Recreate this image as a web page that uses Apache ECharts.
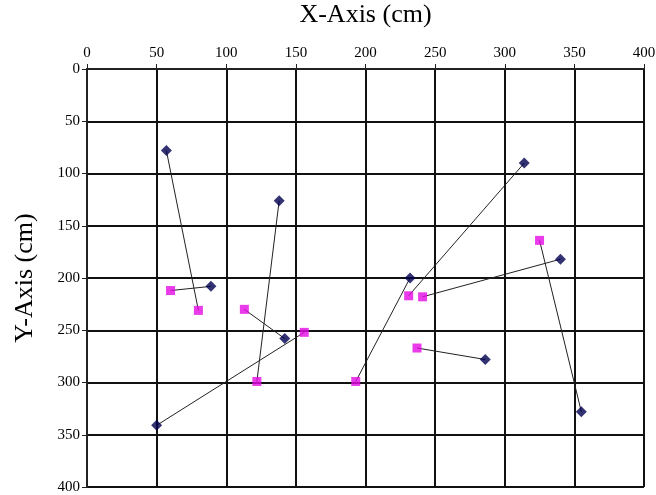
<!DOCTYPE html>
<html><head><meta charset="utf-8">
<script src="https://cdn.jsdelivr.net/npm/echarts@6/dist/echarts.min.js"></script>
<style>html,body{margin:0;padding:0;background:#fff}#c{width:656px;height:495px}</style>
</head><body><div id="c"></div>
<script>
// Navy (start) points and their paired magenta (end) points
var navyX = [57, 89, 138, 142, 50, 232, 314, 340, 286, 355];
var navyY = [78, 208, 126, 258, 341, 200, 90, 182, 278, 328];
var magX  = [80, 60, 122, 113, 156, 193, 231, 241, 237, 325];
var magY  = [231, 212, 299, 230, 252, 299, 217, 218, 267, 164];
var xTicks = [0, 50, 100, 150, 200, 250, 300, 350, 400];
var yTicks = [0, 50, 100, 150, 200, 250, 300, 350, 400];

var series = [];
for (var i = 0; i < navyX.length; i++) {
  series.push({
    type: 'line', silent: true, symbol: 'none', z: 2,
    lineStyle: {color: '#222', width: 1},
    data: [[navyX[i], navyY[i]], [magX[i], magY[i]]]
  });
}
series.push({
  type: 'scatter', symbol: 'square', symbolSize: 9, z: 3,
  itemStyle: {color: '#e40ae4'},
  data: magX.map(function (x, i) { return [x, magY[i]]; })
});
series.push({
  type: 'scatter', symbol: 'diamond', symbolSize: 11, z: 4,
  itemStyle: {color: '#000050'},
  data: navyX.map(function (x, i) { return [x, navyY[i]]; })
});

var font = 'Liberation Serif';
var chart = echarts.init(document.getElementById('c'), null, {renderer: 'canvas'});
chart.setOption({
  animation: false,
  backgroundColor: '#fff',
  grid: {left: 87, top: 69, width: 557, height: 418, containLabel: false, outerBoundsMode: 'none'},
  xAxis: {
    type: 'value', position: 'top', min: xTicks[0], max: xTicks[xTicks.length - 1], interval: 50,
    name: 'X-Axis (cm)', nameLocation: 'middle', nameGap: 41,
    nameTextStyle: {fontFamily: font, fontSize: 26, color: '#000'},
    axisLine: {show: true, lineStyle: {color: '#222', width: 2}},
    axisTick: {show: true, length: 5, lineStyle: {color: '#222', width: 1}},
    axisLabel: {fontFamily: font, fontSize: 15, color: '#000', margin: 8},
    splitLine: {show: true, lineStyle: {color: '#111', width: 2}}
  },
  yAxis: {
    type: 'value', inverse: true, min: yTicks[0], max: yTicks[yTicks.length - 1], interval: 50,
    name: 'Y-Axis (cm)', nameLocation: 'middle', nameGap: 49, nameRotate: 90,
    nameTextStyle: {fontFamily: font, fontSize: 26, color: '#000'},
    axisLine: {show: true, lineStyle: {color: '#222', width: 2}},
    axisTick: {show: true, length: 5, lineStyle: {color: '#222', width: 1}},
    axisLabel: {fontFamily: font, fontSize: 15, color: '#000', margin: 7},
    splitLine: {show: true, lineStyle: {color: '#111', width: 2}}
  },
  series: series
});
</script></body></html>
